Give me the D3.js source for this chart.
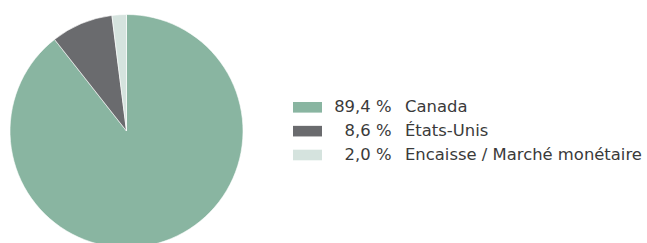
<!DOCTYPE html>
<html><head><meta charset="utf-8">
<script src="https://cdn.jsdelivr.net/npm/d3@7"></script>
<style>html,body{margin:0;padding:0;background:#fff;}svg{display:block;}</style>
</head><body>
<svg id="chart" width="647" height="243"></svg>
<script>
const categories = ["Canada", "États-Unis", "Encaisse / Marché monétaire"];
const values = [89.4, 8.6, 2.0];
const valueLabels = ["89,4 %", "8,6 %", "2,0 %"];
const colors = ["#89b5a1", "#6a6b6e", "#d5e3de"];

const svg = d3.select("#chart");
const cx = 126.5, cy = 131, r = 116.5;
const pie = d3.pie().sort(null).value(d => d)(values);
const arc = d3.arc().innerRadius(0).outerRadius(r);
svg.append("g").attr("transform", `translate(${cx},${cy})`)
  .selectAll("path").data(pie).join("path")
  .attr("d", arc).attr("fill", (d, i) => colors[i])
  .attr("stroke", "#fff").attr("stroke-width", 0.6);

const font = "'DejaVu Sans', sans-serif";
const y = d3.scalePoint().domain(categories).range([107.3, 155]);
const lg = svg.append("g");
const rows = lg.selectAll("g").data(categories).join("g")
  .attr("transform", d => `translate(0,${y(d)})`);
rows.append("rect").attr("x", 293).attr("y", -5.3).attr("width", 29).attr("height", 10.6)
  .attr("fill", (d, i) => colors[i]);
const vt = rows.append("text").attr("x", 391.5).attr("y", 5).attr("text-anchor", "end")
  .attr("font-family", font).attr("font-size", 14).attr("fill", "#3a3a3a")
  .text((d, i) => valueLabels[i]);
const lt = rows.append("text").attr("x", 405).attr("y", 5)
  .attr("font-family", font).attr("font-size", 14).attr("fill", "#3a3a3a")
  .text(d => d);
// fit font size to the reference label width
const w = lt.nodes()[2].getComputedTextLength();
const fs = 14 * 237 / w;
vt.attr("font-size", fs); lt.attr("font-size", fs);
</script>
</body></html>
